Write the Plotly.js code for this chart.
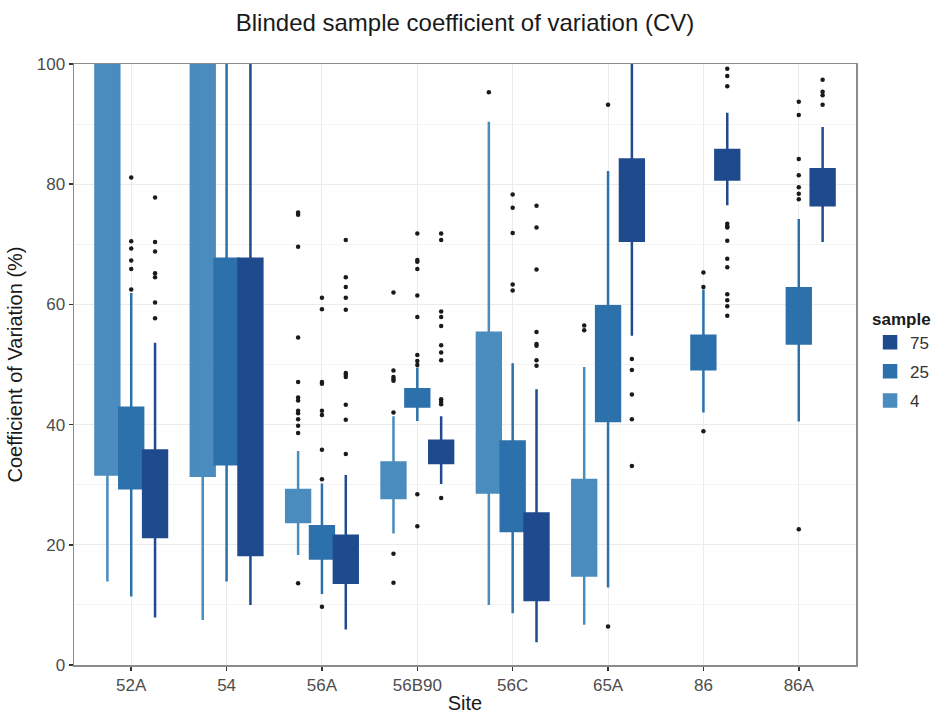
<!DOCTYPE html>
<html>
<head>
<meta charset="utf-8">
<script src="https://cdn.plot.ly/plotly-3.0.1.min.js"></script>
<style>html,body{margin:0;padding:0;background:#fff}#chart{width:946px;height:714px}</style>
</head>
<body>
<div id="chart"></div>
<script>
// Categories
var sites = ['52A','54','56A','56B90','56C','65A','86','86A'];
var samples = ['4','25','75'];
var colors = {'4':'#4a8cbe','25':'#2c70ac','75':'#1f4a8e'};
var offsets = {'4':-0.25,'25':0,'75':0.25};
var ranks = {'4':3,'25':2,'75':1};

// sample 4 (no boxes at 86 / 86A)
var s4_site = [0,1,2,3,4,5];
var s4_lo   = [13.9, 7.5, 18.3, 21.9, 10.0, 6.7];
var s4_q1   = [31.7, 31.5, 23.8, 27.8, 28.7, 14.9];
var s4_med  = [70.0, 70.0, 26.5, 30.5, 40.0, 22.0];
var s4_q3   = [120, 120, 29.1, 33.7, 55.3, 30.8];
var s4_hi   = [150, 150, 35.6, 41.4, 90.4, 49.6];

// sample 25
var s25_site = [0,1,2,3,4,5,6,7];
var s25_lo   = [11.4, 13.9, 11.8, 40.6, 8.6, 12.9, 42.0, 40.5];
var s25_q1   = [29.4, 33.4, 17.7, 43.0, 22.3, 40.6, 49.2, 53.5];
var s25_med  = [36.0, 50.0, 20.5, 44.5, 30.0, 50.0, 52.0, 58.0];
var s25_q3   = [42.8, 67.6, 23.1, 45.9, 37.2, 59.7, 54.8, 62.7];
var s25_hi   = [61.9, 150, 30.2, 49.5, 50.2, 82.2, 62.5, 74.2];

// sample 75
var s75_site = [0,1,2,3,4,5,6,7];
var s75_lo   = [7.9, 10.0, 5.9, 30.1, 3.8, 54.8, 76.5, 70.4];
var s75_q1   = [21.3, 18.3, 13.7, 33.6, 10.8, 70.6, 80.8, 76.5];
var s75_med  = [28.5, 43.0, 17.5, 35.5, 18.0, 77.0, 83.0, 79.5];
var s75_q3   = [35.7, 67.6, 21.5, 37.3, 25.2, 84.1, 85.7, 82.5];
var s75_hi   = [53.6, 150, 31.6, 41.4, 45.9, 105, 91.9, 89.5];

// outliers: site index and value
var o4_site = [2,2,2,2,2,2,2,2,2,2,2,2,2, 3,3,3,3,3,3,3,3, 4, 5,5];
var o4_val  = [75.3,74.9,69.6,54.5,47.1,44.5,44.0,42.3,41.9,40.9,39.8,38.6,13.6,
               62.0,49.0,47.9,47.6,47.3,42.0,18.5,13.7, 95.3, 56.5,55.7];

var o25_site = [0,0,0,0,0,0, 2,2,2,2,2,2,2,2,2, 3,3,3,3,3,3,3,3,3,3,3, 4,4,4,4,4, 5,5, 6,6,6, 7,7,7,7,7,7,7,7];
var o25_val  = [81.1,70.5,69.3,67.3,65.9,62.5,
                61.1,59.2,47.1,46.8,42.3,41.6,35.8,30.9,9.7,
                71.8,67.4,67.1,65.9,61.5,57.9,51.6,50.6,49.9,28.4,23.1,
                78.3,76.1,71.9,63.3,62.3,
                93.2,6.4,
                65.3,62.9,38.9,
                93.7,91.5,84.2,81.5,79.5,78.4,77.5,22.6];

var o75_site = [0,0,0,0,0,0,0, 2,2,2,2,2,2,2,2,2,2,2, 3,3,3,3,3,3,3,3,3,3,3,3, 4,4,4,4,4,4,4,4, 5,5,5,5,5, 6,6,6,6,6,6,6,6,6,6,6,6,6, 7,7,7,7];
var o75_val  = [77.8,70.4,68.8,65.2,64.5,60.3,57.7,
                70.7,64.5,62.9,61.1,59.1,48.6,48.3,47.9,43.3,40.8,35.1,
                71.8,70.7,58.8,57.9,56.4,53.2,52.0,50.7,44.2,43.8,43.4,27.8,
                76.4,72.8,65.8,55.4,53.4,53.1,50.7,49.8,
                50.9,49.1,45.0,40.9,33.1,
                99.2,98.0,96.3,73.4,73.0,72.8,70.6,67.6,66.2,61.7,60.7,59.7,58.1,
                97.4,95.4,94.8,93.2];

function pos(idx, s){ return idx.map(function(i){ return i + offsets[s]; }); }

function boxTrace(s, site, lo, q1, med, q3, hi){
  return {
    type:'box', name:s, x:pos(site,s),
    lowerfence:lo, q1:q1, median:med, q3:q3, upperfence:hi,
    width:0.25, whiskerwidth:0,
    fillcolor:colors[s], line:{color:colors[s], width:2.5},
    boxpoints:false, hoverinfo:'skip', legendgroup:s, legendrank:ranks[s]
  };
}
function outTrace(s, site, val){
  return {
    type:'scatter', mode:'markers', x:pos(site,s), y:val,
    marker:{color:'#1a1a1a', size:4.5}, showlegend:false, hoverinfo:'skip', cliponaxis:true
  };
}

var data = [
  boxTrace('4', s4_site, s4_lo, s4_q1, s4_med, s4_q3, s4_hi),
  boxTrace('25', s25_site, s25_lo, s25_q1, s25_med, s25_q3, s25_hi),
  boxTrace('75', s75_site, s75_lo, s75_q1, s75_med, s75_q3, s75_hi),
  outTrace('4', o4_site, o4_val),
  outTrace('25', o25_site, o25_val),
  outTrace('75', o75_site, o75_val)
];

var font = 'Liberation Sans, Arial, Helvetica, sans-serif';
var layout = {
  width:946, height:714,
  margin:{l:74, r:88, t:64, b:49},
  paper_bgcolor:'#ffffff', plot_bgcolor:'#ffffff',
  font:{family:font, color:'#222'},
  title:{text:'Blinded sample coefficient of variation (CV)', font:{size:24, color:'#1a1a1a', family:font},
         x:0.5, xref:'paper', xanchor:'center', y:0.969, yref:'container', yanchor:'middle'},
  boxmode:'overlay',
  showlegend:true,
  legend:{title:{text:'<b>sample</b>', font:{size:17, color:'#1a1a1a'}}, font:{size:17, color:'#333'},
          traceorder:'grouped', x:1.018, xanchor:'left', y:0.603, yanchor:'top', tracegroupgap:4,
          bgcolor:'rgba(0,0,0,0)'},
  xaxis:{
    range:[-0.6, 7.6], tickmode:'array', tickvals:[0,1,2,3,4,5,6,7], ticktext:sites,
    showgrid:true, gridcolor:'#ebebeb', gridwidth:1, zeroline:false,
    showline:true, mirror:true, linecolor:'#8c8c8c', linewidth:1.5,
    ticks:'outside', ticklen:4, tickwidth:1.5, tickcolor:'#333',
    tickfont:{size:17, color:'#4d4d4d'},
    title:{text:'Site', font:{size:20, color:'#1a1a1a'}, standoff:2}
  },
  yaxis:{
    range:[0,100], tickvals:[0,20,40,60,80,100],
    showgrid:true, gridcolor:'#ebebeb', gridwidth:1, zeroline:false,
    minor:{tickvals:[10,30,50,70,90], showgrid:true, gridcolor:'#f4f4f4', gridwidth:1, ticks:''},
    showline:true, mirror:true, linecolor:'#8c8c8c', linewidth:1.5,
    ticks:'outside', ticklen:4, tickwidth:1.5, tickcolor:'#333',
    tickfont:{size:17, color:'#4d4d4d'},
    title:{text:'Coefficient of Variation (%)', font:{size:20, color:'#1a1a1a'}, standoff:8}
  }
};

Plotly.newPlot('chart', data, layout, {displayModeBar:false, staticPlot:true});
</script>
</body>
</html>
